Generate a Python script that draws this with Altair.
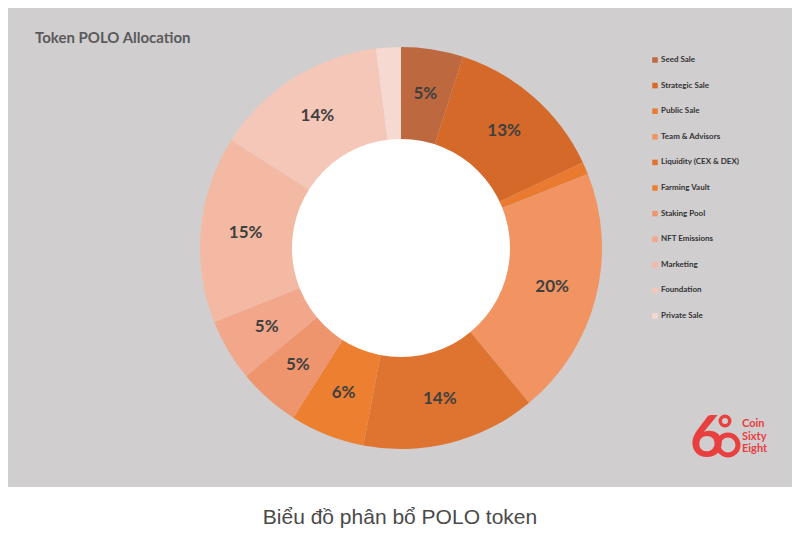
import altair as alt
import pandas as pd

categories = ["Seed Sale", "Strategic Sale", "Public Sale", "Team & Advisors",
              "Liquidity (CEX & DEX)", "Farming Vault", "Staking Pool",
              "NFT Emissions", "Marketing", "Foundation", "Private Sale"]
values = [5, 13, 1, 20, 14, 6, 5, 5, 15, 14, 2]
colors = ["#bd683f", "#d4692a", "#ea7a30", "#f19462", "#df7430", "#ec7f30",
          "#ef956d", "#f2a68a", "#f3b9a3", "#f5c7b8", "#f6d9d1"]

title_text = ["Token POLO Allocation"]
caption_text = ["Biểu đồ phân bổ POLO token"]
logo_lines = ["Coin", "Sixty", "Eight"]

df = pd.DataFrame({
    "category": categories,
    "value": values,
    "idx": list(range(len(categories))),
})
df["label"] = [f"{v}%" if v >= 5 else "" for v in values]

CX, CY = 393, 240
R_OUT, R_IN = 201, 108

one = pd.DataFrame({"a": [0]})

bg = alt.Chart(one).mark_rect(color="#d0cecf").encode(
    x=alt.value(-8), x2=alt.value(792), y=alt.value(-8), y2=alt.value(479)
)

hole = alt.Chart(one).mark_arc(radius=R_IN + 1, innerRadius=0, theta=0,
                               theta2=6.2832, color="white").encode(
    x=alt.value(CX), y=alt.value(CY)
)

base = alt.Chart(df).encode(
    theta=alt.Theta("value:Q", stack=True),
    order=alt.Order("idx:Q"),
)

arcs = base.mark_arc(radius=R_OUT, innerRadius=R_IN).encode(
    x=alt.value(CX), y=alt.value(CY),
    color=alt.Color(
        "category:N",
        scale=alt.Scale(domain=categories, range=colors),
        sort=categories,
        legend=alt.Legend(
            title=None, orient="none", legendX=643, legendY=48,
            symbolType="square", symbolSize=30, symbolStrokeWidth=0,
            labelFontSize=8, labelFont="Lato", labelFontWeight="bold",
            labelColor="#333333", rowPadding=17.6, labelOffset=2,
        ),
    ),
)

labels = base.mark_text(radius=156, font="Lato", fontWeight="bold",
                        fontSize=17, color="#404040").encode(
    x=alt.value(CX), y=alt.value(CY),
    text="label:N",
)

title = alt.Chart(pd.DataFrame({"t": title_text})).mark_text(
    align="left", baseline="middle", font="Lato", fontWeight="bold",
    fontSize=15, color="#5a5a5a"
).encode(x=alt.value(27), y=alt.value(30), text="t:N")

caption = alt.Chart(pd.DataFrame({"t": caption_text})).mark_text(
    align="center", baseline="middle", font="Liberation Sans",
    fontSize=21, color="#4a4a4a"
).encode(x=alt.value(392), y=alt.value(510), text="t:N")

red = "#e8403f"
logo6 = alt.Chart(pd.DataFrame({"t": ["6"]})).mark_text(
    align="left", baseline="alphabetic", font="Lato", fontWeight="bold",
    fontSize=58, color=red
).encode(x=alt.value(682), y=alt.value(449), text="t:N")
logo_o1 = alt.Chart(one).mark_point(
    shape="circle", filled=False, size=90, strokeWidth=3.5, color=red, opacity=1
).encode(x=alt.value(717), y=alt.value(413))
logo_o2 = alt.Chart(one).mark_point(
    shape="circle", filled=False, size=400, strokeWidth=5, color=red, opacity=1
).encode(x=alt.value(720), y=alt.value(437))

logo_layers = []
for line, yy in zip(logo_lines, [416, 429, 441]):
    logo_layers.append(
        alt.Chart(pd.DataFrame({"t": [line]})).mark_text(
            align="left", baseline="middle", font="Lato", fontWeight="bold",
            fontSize=11, color=red
        ).encode(x=alt.value(734), y=alt.value(yy), text="t:N")
    )

chart = alt.layer(bg, arcs, hole, labels, title, caption, logo6, logo_o1, logo_o2,
                  *logo_layers).properties(
    width=784, height=520,
    autosize=alt.AutoSizeParams(type="none"),
    padding=0,
    background="white",
).configure_view(stroke=None)

chart.save("out.html", embed_options={"renderer": "svg", "actions": False})
